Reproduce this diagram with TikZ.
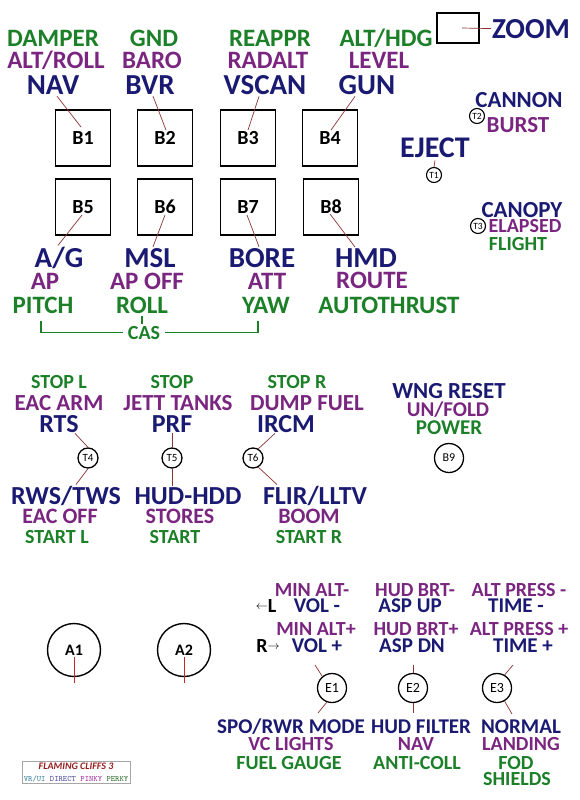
\documentclass[tikz,border=0pt]{standalone}
\usepackage{fontspec}
\setmainfont{Carlito}
\definecolor{dirblue}{RGB}{26,26,115}
\definecolor{pinkpurple}{RGB}{122,38,128}
\definecolor{perkgreen}{RGB}{28,128,40}
\definecolor{leadred}{RGB}{140,52,52}
\definecolor{dialred}{RGB}{200,40,40}
\definecolor{fcred}{RGB}{150,30,30}
\definecolor{vrteal}{RGB}{60,130,160}
\definecolor{directblue}{RGB}{80,80,160}
\definecolor{pinkyviolet}{RGB}{160,50,160}
\definecolor{perkyolive}{RGB}{50,110,50}
\begin{document}
\begin{tikzpicture}[x=1pt, y=-1pt,
    lbl/.style={anchor=base, inner sep=0pt},
    nv/.style={lbl, text=dirblue, font=\bfseries\fontsize{#1}{#1}\selectfont},
    pk/.style={lbl, text=pinkpurple, font=\bfseries\fontsize{#1}{#1}\selectfont},
    gr/.style={lbl, text=perkgreen, font=\bfseries\fontsize{#1}{#1}\selectfont},
    btn/.style={draw, line width=1.3pt, minimum width=55pt, minimum height=56pt,
                font=\bfseries\fontsize{20}{20}\selectfont},
    hatS/.style={draw, circle, line width=1.1pt, inner sep=0pt, minimum size=15pt,
                 font=\fontsize{9.5}{9.5}\selectfont},
    hatM/.style={draw, circle, line width=1.3pt, inner sep=0pt, minimum size=20pt,
                 font=\fontsize{11}{11}\selectfont},
    knob/.style={draw, circle, line width=1.3pt, inner sep=0pt, minimum size=29pt,
                 font=\fontsize{14}{14}\selectfont},
    dial/.style={draw, circle, line width=1.4pt, inner sep=0pt, minimum size=53pt,
                 font=\bfseries\fontsize{16}{16}\selectfont},
    lead/.style={draw=leadred, line width=0.7pt},
    dialline/.style={draw=dialred, line width=0.9pt},
    cas/.style={draw=perkgreen, line width=1.2pt}
]
\path[use as bounding box, fill=white] (0,0) rectangle (579,800);

% buttons B1-B8
\foreach \n/\x/\y in {1/83/138, 2/165/138, 3/248/138, 4/330/138,
                      5/83/207, 6/165/207, 7/248/207, 8/331/207}
    \node[btn] (b\n) at (\x,\y) {B\n};

% top labels
\node[gr=25] (damper) at (53,47) {DAMPER};
\node[pk=25] (altroll) at (56,69) {ALT/ROLL};
\node[nv=29] (nav) at (53,94) {NAV};
\node[gr=25] (gnd) at (154,47) {GND};
\node[pk=25] (baro) at (152,69) {BARO};
\node[nv=29] (bvr) at (150,94) {BVR};
\node[gr=25] (reappr) at (270,47) {REAPPR};
\node[pk=25] (radalt) at (268,69) {RADALT};
\node[nv=29] (vscan) at (265,94) {VSCAN};
\node[gr=25] (althdg) at (386,47) {ALT/HDG};
\node[pk=25] (level) at (379,69) {LEVEL};
\node[nv=29] (gun) at (367,94) {GUN};
\draw[lead] ([xshift=4pt,yshift=-2pt]nav.south) -- ([xshift=-2pt,yshift=11pt]b1.center);
\draw[lead] ([xshift=3pt,yshift=-2pt]bvr.south) -- ([xshift=1pt,yshift=8pt]b2.center);
\draw[lead] ([xshift=-6pt,yshift=-2pt]vscan.south) -- ([yshift=8pt]b3.center);
\draw[lead] ([xshift=-12pt,yshift=-2pt]gun.south) -- ([xshift=1pt,yshift=8pt]b4.center);

% second row labels
\node[nv=29] (ag) at (59,267) {A/G};
\node[pk=25] (ap) at (45,289) {AP};
\node[gr=25] (pitch) at (43,313) {PITCH};
\node[nv=29] (msl) at (150,267) {MSL};
\node[pk=25] (apoff) at (147,289) {AP OFF};
\node[gr=25] (roll) at (142,313) {ROLL};
\node[nv=29] (bore) at (262,267) {BORE};
\node[pk=25] (att) at (267,289) {ATT};
\node[gr=25] (yaw) at (266,313) {YAW};
\node[nv=29] (hmd) at (366,267) {HMD};
\node[pk=25] (route) at (372,288) {ROUTE};
\node[gr=25] (autothrust) at (389,313) {AUTOTHRUST};
\draw[lead] ([xshift=-1pt,yshift=-8pt]b5.center) -- ([xshift=-1pt,yshift=1pt]ag.north);
\draw[lead] ([yshift=-8pt]b6.center) -- ([xshift=3pt,yshift=1pt]msl.north);
\draw[lead] ([xshift=-1pt,yshift=-8pt]b7.center) -- ([xshift=-3pt,yshift=1pt]bore.north);
\draw[lead] ([xshift=-1pt,yshift=-7pt]b8.center) -- ([xshift=-11pt,yshift=1pt]hmd.north);

% CAS bracket
\node[gr=20, inner xsep=5pt] (cas) at (144,339) {CAS};
\draw[cas] ([xshift=-2pt,yshift=-8pt]pitch.south) |- (cas.west);
\draw[cas] ([xshift=-8pt,yshift=-8pt]yaw.south) |- (cas.east);
\draw[cas] ([yshift=-3pt]roll.south) -- ([yshift=2pt]roll.south |- cas.north);

% zoom, eject, cannon, canopy
\node[draw, line width=1.3pt, minimum width=42pt, minimum height=30pt] (zoombox) at (458,28) {};
\node[nv=29, inner xsep=1pt] (zoom) at (531,38) {ZOOM};
\draw[lead] ([xshift=4pt]zoombox.center) -- (zoom.west);
\node[nv=30] (eject) at (435,157) {EJECT};
\node[hatS] (t1) at (434,175) {T1};
\draw[lead] (t1.north) -- ([yshift=-3pt]eject.south);
\node[nv=23] (cannon) at (519,107) {CANNON};
\node[hatS] (t2) at (477,116) {T2};
\node[pk=23] (burst) at (518,132) {BURST};
\node[nv=23] (canopy) at (522,217) {CANOPY};
\node[hatS] (t3) at (478,226) {T3};
\node[pk=20] (elapsed) at (525,232) {ELAPSED};
\node[gr=20] (flight) at (518,250) {FLIGHT};

% T4 - T6
\node[gr=20] (stopl) at (59,388) {STOP L};
\node[pk=23] (eacarm) at (59,410) {EAC ARM};
\node[nv=26] (rts) at (59,432) {RTS};
\node[hatM] (t4) at (88,458) {T4};
\node[nv=26] (rwstws) at (66,504) {RWS/TWS};
\node[pk=22] (eacoff) at (60,523) {EAC OFF};
\node[gr=20] (startl) at (57,543) {START L};
\draw[lead] ([xshift=16pt,yshift=-1pt]rts.south) -- (t4.north);
\draw[lead] (t4.south) -- ([xshift=10pt,yshift=1pt]rwstws.north);

\node[gr=20] (stop) at (172,388) {STOP};
\node[pk=23] (jetttanks) at (178,410) {JETT TANKS};
\node[nv=26] (prf) at (172,432) {PRF};
\node[hatM] (t5) at (172,458) {T5};
\node[nv=26] (hudhdd) at (188,504) {HUD-HDD};
\node[pk=22] (stores) at (180,523) {STORES};
\node[gr=20] (start) at (175,543) {START};
\draw[lead] ([yshift=-1pt]prf.south) -- (t5.north);
\draw[lead] (t5.south) -- ([yshift=1pt]t5.south |- hudhdd.north);

\node[gr=20] (stopr) at (297,388) {STOP R};
\node[pk=23] (dumpfuel) at (307,410) {DUMP FUEL};
\node[nv=26] (ircm) at (286,432) {IRCM};
\node[hatM] (t6) at (253,458) {T6};
\node[nv=26] (flirlltv) at (315,504) {FLIR/LLTV};
\node[pk=22] (boom) at (309,523) {BOOM};
\node[gr=20] (startr) at (309,543) {START R};
\draw[lead] (t6.60) -- ([xshift=-11pt,yshift=-1pt]ircm.south);
\draw[lead] (t6.-60) -- ([xshift=-38pt,yshift=1pt]flirlltv.north);

% B9
\node[nv=23] (wngreset) at (449,398) {WNG RESET};
\node[pk=21] (unfold) at (448,416) {UN/FOLD};
\node[gr=21] (power) at (449,434) {POWER};
\node[knob, font=\fontsize{12}{12}\selectfont] (b9) at (449,458) {B9};

% A1, A2
\node[dial] (a1) at (74,650) {A1};
\node[dial] (a2) at (184,650) {A2};
\coordinate (a1end) at (74,683);
\coordinate (a2end) at (184,683);
\draw[dialline] ([yshift=-7pt]a1.center) -- (a1end);
\draw[dialline] ([yshift=-7pt]a2.center) -- (a2end);

% E1 - E3 labels
\node[pk=20] (minaltm) at (312,596) {MIN ALT-};
\node[lbl, font=\bfseries\fontsize{20}{20}\selectfont] (leftl) at (266,612)
    {\raisebox{3pt}{\fontsize{12}{12}\selectfont$\leftarrow$}L};
\node[nv=21] (volm) at (317,612) {VOL -};
\node[pk=20] (minaltp) at (316,635) {MIN ALT+};
\node[lbl, font=\bfseries\fontsize{20}{20}\selectfont] (rightr) at (268,652)
    {R\raisebox{3pt}{\fontsize{12}{12}\selectfont$\rightarrow$}};
\node[nv=21] (volp) at (317,652) {VOL +};
\node[pk=20] (hudbrtm) at (415,596) {HUD BRT-};
\node[nv=21] (aspup) at (410,612) {ASP UP};
\node[pk=20] (hudbrtp) at (416,635) {HUD BRT+};
\node[nv=21] (aspdn) at (412,652) {ASP DN};
\node[pk=20] (altpressm) at (519,596) {ALT PRESS -};
\node[nv=21] (timem) at (516,612) {TIME -};
\node[pk=20] (altpressp) at (519,635) {ALT PRESS +};
\node[nv=21] (timep) at (523,652) {TIME +};

\node[knob] (e1) at (332,688) {E1};
\node[knob] (e2) at (413,688) {E2};
\node[knob] (e3) at (497,688) {E3};
\coordinate (e1up) at (315,665);
\coordinate (e1dn) at (318,713);
\coordinate (e2up) at (413,665);
\coordinate (e2dn) at (413,713);
\coordinate (e3up) at (513,665);
\coordinate (e3dn) at (512,714);
\draw[lead] (e1.130) -- (e1up);
\draw[lead] (e1.-110) -- (e1dn);
\draw[lead] (e2.north) -- (e2up);
\draw[lead] (e2.south) -- (e2dn);
\draw[lead] (e3.60) -- (e3up);
\draw[lead] (e3.-60) -- (e3dn);

\node[nv=21] (spo) at (291,733) {SPO/RWR MODE};
\node[pk=20] (vclights) at (291,750) {VC LIGHTS};
\node[gr=20] (fuelgauge) at (289,769) {FUEL GAUGE};
\node[nv=21] (hudfilter) at (421,733) {HUD FILTER};
\node[pk=20] (navlt) at (416,750) {NAV};
\node[gr=20] (anticoll) at (417,769) {ANTI-COLL};
\node[nv=21] (normal) at (521,733) {NORMAL};
\node[pk=20] (landing) at (521,750) {LANDING};
\node[gr=20] (fod) at (516,769) {FOD};
\node[gr=20] (shields) at (517,785) {SHIELDS};

% legend
\node[draw=gray!70, line width=0.6pt, inner sep=1.5pt, align=center, anchor=north west] (legend) at (22,761)
    {{\color{fcred}\bfseries\itshape\fontsize{10}{11}\selectfont FLAMING CLIFFS 3}\\
     {\ttfamily\fontsize{8.2}{9}\selectfont\color{vrteal}VR/UI \color{directblue}DIRECT \color{pinkyviolet}PINKY \color{perkyolive}PERKY}};
\end{tikzpicture}
\end{document}
